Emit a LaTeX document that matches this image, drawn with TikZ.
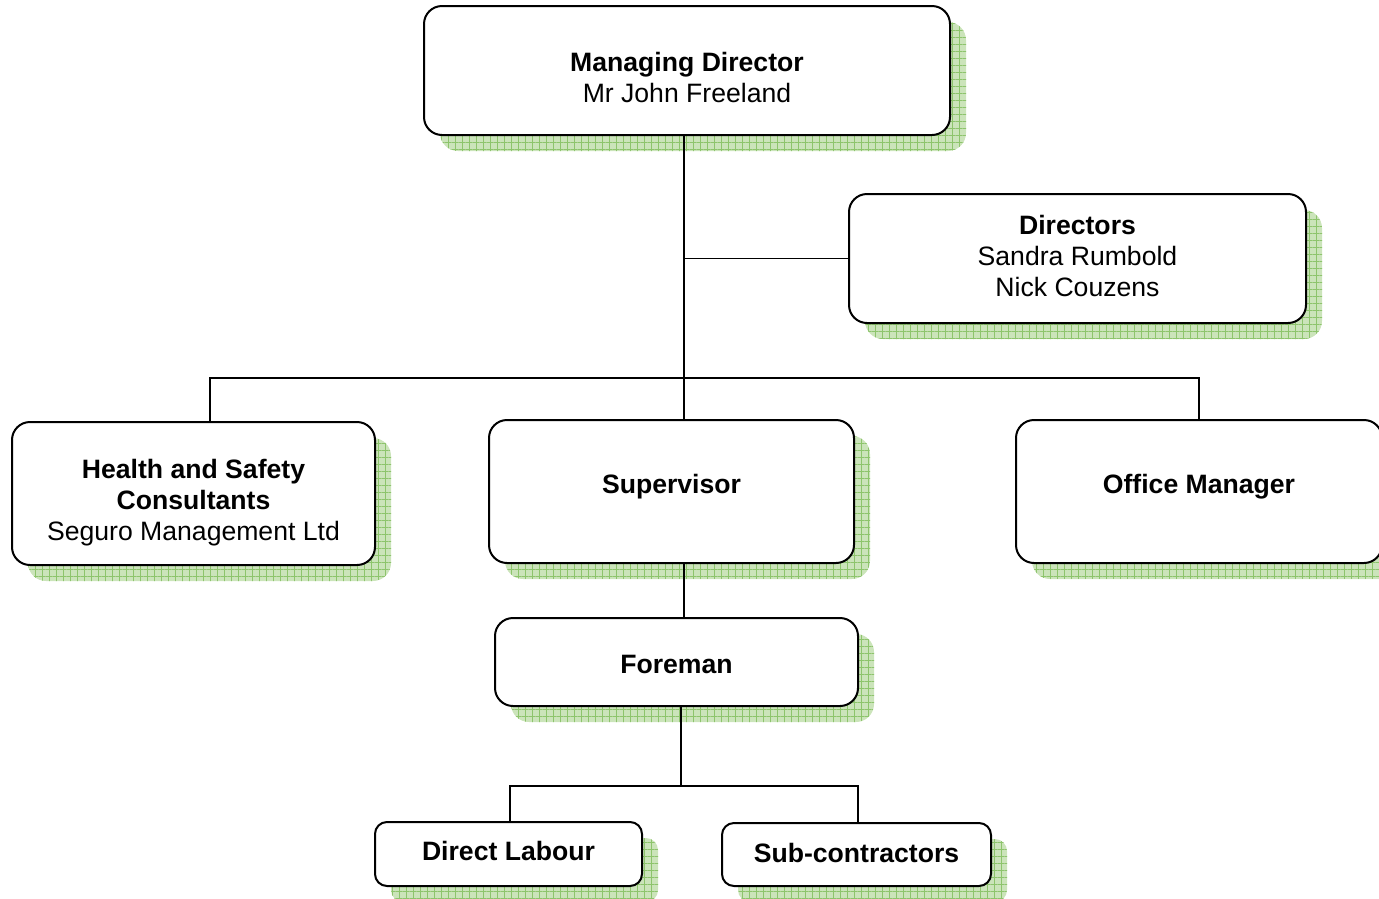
\documentclass[tikz,border=0pt]{standalone}
\usepackage{fontspec}
\setmainfont{Liberation Sans}
\usetikzlibrary{
        positioning,
        patterns.meta
    }
\definecolor{shadefill}{HTML}{CBE4BA}
\definecolor{shadegrid}{HTML}{8DC46C}
\newcommand\padtop[1]{\rule{0pt}{#1}}
\newcommand\padbot[1]{\rule[-#1]{0pt}{#1}}
\tikzset{x=1pt,y=-1pt}
\tikzset{
    box/.style={draw, line width=2pt, fill=white, rounded corners=18pt,
        align=center, inner sep=0pt,
        font=\fontsize{26.6pt}{31pt}\selectfont,
        preaction={fill=shadefill, transform canvas={shift={(16pt,-16pt)}}},
        preaction={pattern={Hatch[angle=0,distance=7pt,line width=0.8pt]},
            pattern color=shadegrid, transform canvas={shift={(16pt,-16pt)}}}},
    smallbox/.style={box, rounded corners=12pt},
    link/.style={draw, line width=1.4pt}
}

\begin{document}
\begin{tikzpicture}
    \useasboundingbox (0,0) rectangle (1379,898);
        \node[box, minimum width=526pt, minimum height=129pt] (md) at (687,70.5)
                {\padtop{33pt}\textbf{Managing Director}\\Mr John Freeland};
        \node[box, minimum width=457pt, minimum height=129pt] (dir) at (1077.5,258.5)
                {\textbf{Directors}\\Sandra Rumbold\\Nick Couzens\padbot{5pt}};
        \node[box, minimum width=363pt, minimum height=143pt] (hs) at (193.5,493.5)
                {\padtop{37.4pt}\textbf{Health and Safety}\\\textbf{Consultants}\\Seguro Management Ltd};
        \node[box, minimum width=365pt, minimum height=143pt] (sup) at (671.5,491.5)
                {\textbf{Supervisor}\padbot{15.6pt}};
        \node[box, minimum width=366pt, minimum height=143pt] (om) at (1199,491.5)
                {\textbf{Office Manager}\padbot{15.6pt}};
        \node[box, minimum width=363pt, minimum height=88pt] (fm) at (676.5,662)
                {\padtop{23pt}\textbf{Foreman}};
        \node[smallbox, minimum width=267pt, minimum height=64pt] (dl) at (508.5,854)
                {\textbf{Direct Labour}\padbot{6pt}};
        \node[smallbox, minimum width=269pt, minimum height=63pt] (sc) at (856.5,854.5)
                {\textbf{Sub-contractors}\padbot{3pt}};

        \coordinate (bus) at (684,378);
        \coordinate (fbus) at (681,786);
        \draw[link] (md.south -| bus) -- (bus |- sup.north);
        \draw[link] (bus |- dir.west) -- (dir.west);
        \draw[link] ([xshift=16.5pt]hs.north) |- (bus) -| (om.north);
        \draw[link] (sup.south -| bus) -- (fm.north -| bus);
        \draw[link] (fm.south -| fbus) -- (fbus);
        \draw[link] ([xshift=1.5pt]dl.north) |- (fbus) -| ([xshift=1.5pt]sc.north);
    \end{tikzpicture}
\end{document}
